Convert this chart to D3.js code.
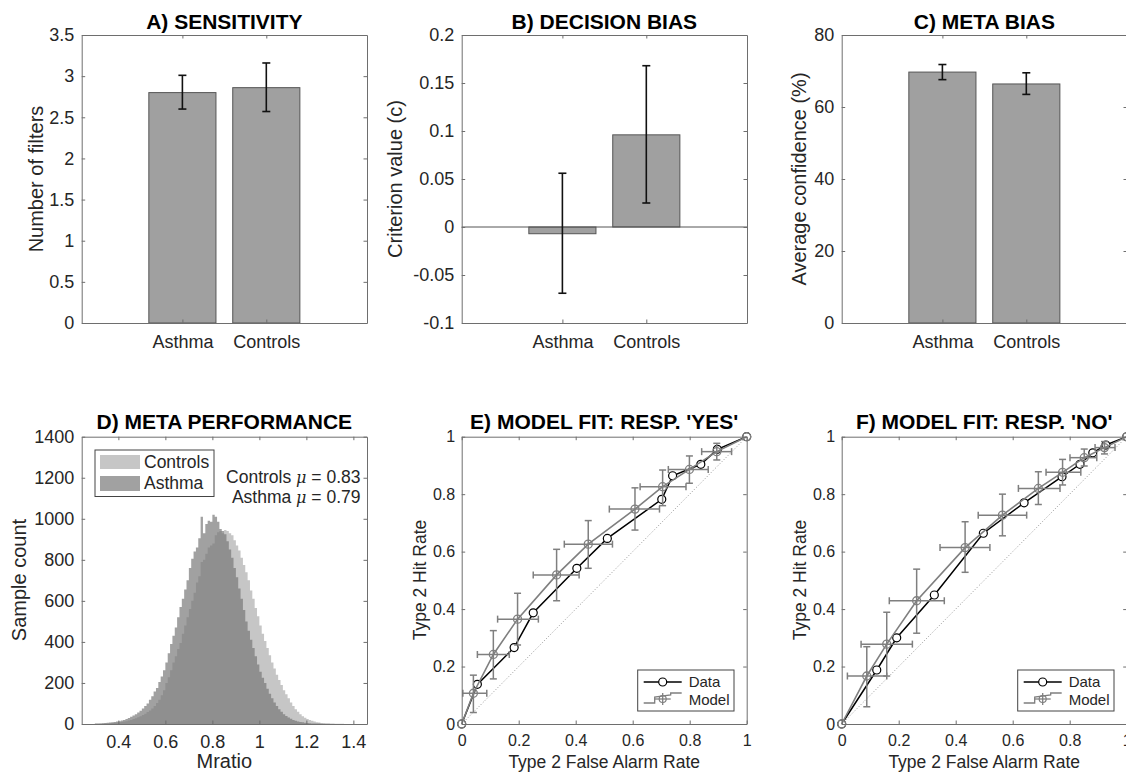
<!DOCTYPE html>
<html>
<head>
<meta charset="utf-8">
<script src="https://cdn.jsdelivr.net/npm/d3@7"></script>
<style>
body { margin: 0; background: #fff; }
svg { display: block; font-family: "Liberation Sans", Arial, Helvetica, sans-serif; }
</style>
</head>
<body>
<script>
// groups and bar values (mean, error bar low / high)
var groups = ["Asthma", "Controls"];
var sensMean = [2.80, 2.86];
var sensLo = [2.60, 2.57];
var sensHi = [3.01, 3.16];
var biasMean = [-0.007, 0.096];
var biasLo = [-0.069, 0.025];
var biasHi = [0.056, 0.168];
var confMean = [69.7, 66.4];
var confLo = [67.6, 63.5];
var confHi = [71.8, 69.5];

// histogram of Mratio samples, bins of 0.01 starting at 0.30
var histBinStart = 0.30;
var histBinWidth = 0.01;
var asthmaCounts = [2,3,3,4,5,6,7,8,10,12,
  14,17,20,24,29,35,41,48,56,64,
  75,88,100,118,135,158,175,205,232,262,
  300,345,390,430,470,520,570,610,655,700,
  760,805,840,860,905,1010,930,975,990,985,
  1020,1010,985,950,940,925,890,850,810,760,
  715,660,610,555,500,455,410,370,330,290,
  255,225,200,172,148,125,105,88,72,60,
  48,39,32,25,20,16,12,10,8,6,
  5,4,3,3,2,2,1,1,1,1];
var controlsCounts = [1,1,2,2,3,3,4,5,6,7,
  8,10,12,14,17,20,24,28,33,38,
  44,50,58,66,75,88,102,118,140,165,
  200,228,262,300,330,365,395,440,480,520,
  560,600,640,690,720,790,800,830,860,870,
  880,920,935,940,930,945,940,930,920,895,
  870,845,810,775,740,700,650,610,565,525,
  480,440,405,370,335,300,270,240,215,190,
  165,145,125,105,88,72,60,48,38,30,
  24,20,16,12,9,7,5,4,3,3,
  2,2,1,1,1,1];
var muLabels = ["Controls", "Asthma"];
var muValues = [0.83, 0.79];

// type 2 ROC, response 'yes'
var yesDataFA = [0, 0.055, 0.184, 0.251, 0.404, 0.511, 0.702, 0.740, 0.839, 0.897, 1];
var yesDataHR = [0, 0.138, 0.266, 0.387, 0.542, 0.646, 0.782, 0.864, 0.904, 0.956, 1];
var yesModelFA = [0, 0.041, 0.111, 0.196, 0.333, 0.444, 0.608, 0.705, 0.799, 0.895, 1];
var yesModelHR = [0, 0.107, 0.242, 0.365, 0.519, 0.626, 0.748, 0.826, 0.886, 0.948, 1];
var yesModelFALo = [0, 0.004, 0.055, 0.126, 0.251, 0.360, 0.518, 0.626, 0.725, 0.842, 1];
var yesModelFAHi = [0, 0.088, 0.167, 0.269, 0.412, 0.529, 0.694, 0.787, 0.865, 0.947, 1];
var yesModelHRLo = [0, 0.040, 0.157, 0.275, 0.429, 0.542, 0.675, 0.760, 0.838, 0.919, 1];
var yesModelHRHi = [0, 0.170, 0.325, 0.455, 0.608, 0.708, 0.822, 0.884, 0.933, 0.977, 1];

// type 2 ROC, response 'no'
var noDataFA = [0, 0.123, 0.193, 0.325, 0.497, 0.640, 0.773, 0.836, 0.881, 0.927, 1];
var noDataHR = [0, 0.188, 0.300, 0.449, 0.664, 0.770, 0.861, 0.904, 0.944, 0.971, 1];
var noModelFA = [0, 0.088, 0.158, 0.263, 0.433, 0.564, 0.690, 0.775, 0.851, 0.922, 1];
var noModelHR = [0, 0.167, 0.278, 0.429, 0.614, 0.727, 0.820, 0.876, 0.927, 0.962, 1];
var noModelFALo = [0, 0.020, 0.068, 0.167, 0.345, 0.479, 0.620, 0.717, 0.801, 0.889, 1];
var noModelFAHi = [0, 0.158, 0.248, 0.360, 0.520, 0.649, 0.766, 0.839, 0.895, 0.959, 1];
var noModelHRLo = [0, 0.060, 0.167, 0.316, 0.528, 0.655, 0.764, 0.832, 0.898, 0.940, 1];
var noModelHRHi = [0, 0.269, 0.389, 0.539, 0.704, 0.800, 0.878, 0.921, 0.957, 0.983, 1];

var W = 1126, H = 773;
var axisCol = "#6e6e6e", textCol = "#262626";
var barFill = "#a0a0a0", barEdge = "#555";
var modelCol = "#7f7f7f";

var svg = d3.select("body").append("svg").attr("width", W).attr("height", H);

var fmt = function (d) { return String(+d.toFixed(4)); };

// box with inward ticks on all four sides
function frame(x, y, o) {
  var g = svg.append("g");
  var x0 = x.range()[0], x1 = x.range()[1], y0 = y.range()[1], y1 = y.range()[0];
  var tl = 3.5;
  var ax = [
    [d3.axisBottom(x).tickValues(o.xTicks).tickFormat(o.xFmt || fmt).tickPadding(o.xPad), 0, y1, true],
    [d3.axisTop(x).tickValues(o.xTicks).tickFormat(""), 0, y0, false],
    [d3.axisLeft(y).tickValues(o.yTicks).tickFormat(o.yFmt || fmt).tickPadding(o.yPad), x0, 0, true],
    [d3.axisRight(y).tickValues(o.yTicks).tickFormat(""), x1, 0, false]
  ];
  ax.forEach(function (a) {
    var s = g.append("g").attr("transform", "translate(" + a[1] + "," + a[2] + ")")
      .call(a[0].tickSizeInner(-tl).tickSizeOuter(0));
    s.attr("font-family", null).attr("font-size", o.fs);
    s.select(".domain").attr("stroke", axisCol);
    s.selectAll(".tick line").attr("stroke", axisCol);
    s.selectAll(".tick text").attr("fill", textCol);
  });
  return g;
}

function title(x, txt, baseY) {
  svg.append("text").attr("x", (x.range()[0] + x.range()[1]) / 2).attr("y", baseY)
    .attr("text-anchor", "middle").attr("font-weight", "bold").attr("font-size", 21)
    .attr("fill", "#000").text(txt);
}

function ylabel(txt, bx, cy, fs) {
  svg.append("text").attr("transform", "translate(" + bx + "," + cy + ") rotate(-90)")
    .attr("text-anchor", "middle").attr("font-size", fs).attr("fill", textCol).text(txt);
}

// ---------- bar panels A, B, C ----------
function barPanel(left, yDomain, yTicks, mean, lo, hi, ttl, ylab, ylabX) {
  var x = d3.scaleLinear().domain([-0.2, 3.2]).range([left, left + 285.3]);
  var y = d3.scaleLinear().domain(yDomain).range([323, 35]);
  var g = svg.append("g");
  var idx = [0, 1];
  g.selectAll("rect").data(idx).enter().append("rect")
    .attr("x", function (i) { return x(i + 1 - 0.4); })
    .attr("width", x(0.8) - x(0))
    .attr("y", function (i) { return y(Math.max(mean[i], 0)); })
    .attr("height", function (i) { return Math.abs(y(mean[i]) - y(0)); })
    .attr("fill", barFill).attr("stroke", barEdge).attr("stroke-width", 1);
  if (yDomain[0] < 0) {
    g.append("line").attr("x1", x.range()[0]).attr("x2", x.range()[1])
      .attr("y1", y(0)).attr("y2", y(0)).attr("stroke", "#555").attr("stroke-width", 1);
  }
  idx.forEach(function (i) {
    var cx = x(i + 1);
    g.append("line").attr("x1", cx).attr("x2", cx).attr("y1", y(lo[i])).attr("y2", y(hi[i]))
      .attr("stroke", "#111").attr("stroke-width", 1.6);
    [lo[i], hi[i]].forEach(function (v) {
      g.append("line").attr("x1", cx - 4).attr("x2", cx + 4).attr("y1", y(v)).attr("y2", y(v))
        .attr("stroke", "#111").attr("stroke-width", 1.6);
    });
  });
  frame(x, y, { xTicks: [1, 2], xFmt: function (d) { return groups[d - 1]; }, xPad: 12,
    yTicks: yTicks, yPad: 7.5, fs: 18 });
  title(x, ttl, 29);
  ylabel(ylab, ylabX, 179, 20);
}

barPanel(81.7, [0, 3.5], [0, 0.5, 1, 1.5, 2, 2.5, 3, 3.5], sensMean, sensLo, sensHi,
  "A) SENSITIVITY", "Number of filters", 42.5);
barPanel(461.7, [-0.1, 0.2], [-0.1, -0.05, 0, 0.05, 0.1, 0.15, 0.2], biasMean, biasLo, biasHi,
  "B) DECISION BIAS", "Criterion value (c)", 402);
barPanel(841.7, [0, 80], [0, 20, 40, 60, 80], confMean, confLo, confHi,
  "C) META BIAS", "Average confidence (%)", 806);

// ---------- panel D: histograms ----------
(function () {
  var x = d3.scaleLinear().domain([0.244, 1.458]).range([81.7, 367]);
  var y = d3.scaleLinear().domain([0, 1400]).range([724, 436.7]);
  var area = d3.area().x(function (d) { return x(d[0]); }).y0(y(0))
    .y1(function (d) { return y(d[1]); }).curve(d3.curveStepAfter);
  function pts(counts) {
    var p = counts.map(function (c, i) { return [histBinStart + i * histBinWidth, c]; });
    p.push([histBinStart + counts.length * histBinWidth, counts[counts.length - 1]]);
    return p;
  }
  svg.append("path").attr("d", area(pts(controlsCounts))).attr("fill", "#c6c6c6");
  svg.append("path").attr("d", area(pts(asthmaCounts))).attr("fill", "rgb(116,116,116)").attr("fill-opacity", 0.68);
  frame(x, y, { xTicks: [0.4, 0.6, 0.8, 1, 1.2, 1.4], xPad: 11, yTicks: d3.range(0, 1401, 200), yPad: 7.5, fs: 18 });
  title(x, "D) META PERFORMANCE", 429);
  ylabel("Sample count", 26, 580, 20);
  svg.append("text").attr("x", (81.7 + 367) / 2).attr("y", 768).attr("text-anchor", "middle")
    .attr("font-size", 20).attr("fill", textCol).text("Mratio");

  // legend
  var lg = svg.append("g");
  lg.append("rect").attr("x", 95).attr("y", 450).attr("width", 119).attr("height", 46.5)
    .attr("fill", "#fff").attr("stroke", "#444").attr("stroke-width", 1);
  lg.append("rect").attr("x", 100).attr("y", 455).attr("width", 40).attr("height", 14).attr("fill", "#c6c6c6");
  lg.append("rect").attr("x", 100).attr("y", 476).attr("width", 40).attr("height", 15)
    .attr("fill", "rgb(116,116,116)").attr("fill-opacity", 0.68);
  lg.append("text").attr("x", 144).attr("y", 468).attr("font-size", 17.5).attr("fill", textCol).text("Controls");
  lg.append("text").attr("x", 144).attr("y", 489).attr("font-size", 17.5).attr("fill", textCol).text("Asthma");

  muLabels.forEach(function (lab, i) {
    var t = svg.append("text").attr("x", 360.5).attr("y", 483 + i * 20).attr("text-anchor", "end")
      .attr("font-size", 17.5).attr("fill", textCol);
    t.append("tspan").text(lab + " ");
    t.append("tspan").attr("font-style", "italic").attr("font-family", "DejaVu Serif, serif").attr("font-size", 16).text("\u03bc");
    t.append("tspan").text(" =  " + muValues[i].toFixed(2));
  });
})();

// ---------- panels E, F: type 2 ROC ----------
function rocPanel(left, dFA, dHR, mFA, mHR, mFALo, mFAHi, mHRLo, mHRHi, ttl) {
  var x = d3.scaleLinear().domain([0, 1]).range([left, left + 285]);
  var y = d3.scaleLinear().domain([0, 1]).range([724, 436.7]);
  var g = svg.append("g");
  g.append("line").attr("x1", x(0)).attr("y1", y(0)).attr("x2", x(1)).attr("y2", y(1))
    .attr("stroke", "#888").attr("stroke-width", 0.9).attr("stroke-dasharray", "1,2");
  var line = d3.line().x(function (d) { return x(d[0]); }).y(function (d) { return y(d[1]); });
  var dPts = dFA.map(function (v, i) { return [v, dHR[i]]; });
  var mPts = mFA.map(function (v, i) { return [v, mHR[i]]; });

  g.append("path").attr("d", line(dPts)).attr("fill", "none").attr("stroke", "#000").attr("stroke-width", 1.5);
  g.selectAll("circle.d").data(dPts).enter().append("circle").attr("class", "d")
    .attr("cx", function (d) { return x(d[0]); }).attr("cy", function (d) { return y(d[1]); })
    .attr("r", 4).attr("fill", "#fff").attr("stroke", "#000").attr("stroke-width", 1.2);

  g.append("path").attr("d", line(mPts)).attr("fill", "none").attr("stroke", modelCol).attr("stroke-width", 1.6);
  var cap = 3.5;
  mPts.forEach(function (p, i) {
    var px = x(p[0]), py = y(p[1]);
    if (mHRHi[i] > mHRLo[i]) {
      g.append("line").attr("x1", px).attr("x2", px).attr("y1", y(mHRLo[i])).attr("y2", y(mHRHi[i]))
        .attr("stroke", modelCol).attr("stroke-width", 1.5);
      [mHRLo[i], mHRHi[i]].forEach(function (v) {
        g.append("line").attr("x1", px - cap).attr("x2", px + cap).attr("y1", y(v)).attr("y2", y(v))
          .attr("stroke", modelCol).attr("stroke-width", 1.5);
      });
    }
    if (mFAHi[i] > mFALo[i]) {
      g.append("line").attr("y1", py).attr("y2", py).attr("x1", x(mFALo[i])).attr("x2", x(mFAHi[i]))
        .attr("stroke", modelCol).attr("stroke-width", 1.5);
      [mFALo[i], mFAHi[i]].forEach(function (v) {
        g.append("line").attr("y1", py - cap).attr("y2", py + cap).attr("x1", x(v)).attr("x2", x(v))
          .attr("stroke", modelCol).attr("stroke-width", 1.5);
      });
    }
  });
  g.selectAll("circle.m").data(mPts).enter().append("circle").attr("class", "m")
    .attr("cx", function (d) { return x(d[0]); }).attr("cy", function (d) { return y(d[1]); })
    .attr("r", 4).attr("fill", "none").attr("stroke", modelCol).attr("stroke-width", 1.3);

  frame(x, y, { xTicks: [0, 0.2, 0.4, 0.6, 0.8, 1], xPad: 10.5, yTicks: [0, 0.2, 0.4, 0.6, 0.8, 1], yPad: 6.5, fs: 16 });
  title(x, ttl, 429);
  ylabel("Type 2 Hit Rate", left - 35.7, 580, 17.5);
  svg.append("text").attr("x", left + 142.5).attr("y", 768).attr("text-anchor", "middle")
    .attr("font-size", 17.5).attr("fill", textCol).text("Type 2 False Alarm Rate");

  // legend
  var lx = left + 176, ly = 670;
  var lg = svg.append("g");
  lg.append("rect").attr("x", lx).attr("y", ly).attr("width", 96.3).attr("height", 41)
    .attr("fill", "#fff").attr("stroke", "#444").attr("stroke-width", 1);
  lg.append("line").attr("x1", lx + 6).attr("x2", lx + 44).attr("y1", ly + 12).attr("y2", ly + 12)
    .attr("stroke", "#000").attr("stroke-width", 1.5);
  lg.append("circle").attr("cx", lx + 25).attr("cy", ly + 12).attr("r", 4).attr("fill", "#fff")
    .attr("stroke", "#000").attr("stroke-width", 1.2);
  lg.append("path").attr("d", "M" + (lx + 6) + "," + (ly + 33) + "H" + (lx + 17) + "V" + (ly + 27) +
    "L" + (lx + 33) + "," + (ly + 25) + "V" + (ly + 23) + "H" + (lx + 44))
    .attr("fill", "none").attr("stroke", modelCol).attr("stroke-width", 1.3);
  lg.append("line").attr("x1", lx + 17).attr("x2", lx + 33).attr("y1", ly + 29).attr("y2", ly + 29)
    .attr("stroke", modelCol).attr("stroke-width", 1.3);
  lg.append("line").attr("x1", lx + 25).attr("x2", lx + 25).attr("y1", ly + 23).attr("y2", ly + 35)
    .attr("stroke", modelCol).attr("stroke-width", 1.3);
  lg.append("circle").attr("cx", lx + 25).attr("cy", ly + 29).attr("r", 3.5).attr("fill", "none")
    .attr("stroke", modelCol).attr("stroke-width", 1.2);
  lg.append("text").attr("x", lx + 51).attr("y", ly + 17).attr("font-size", 15).attr("fill", textCol).text("Data");
  lg.append("text").attr("x", lx + 51).attr("y", ly + 35).attr("font-size", 15).attr("fill", textCol).text("Model");
}

rocPanel(461.7, yesDataFA, yesDataHR, yesModelFA, yesModelHR, yesModelFALo, yesModelFAHi,
  yesModelHRLo, yesModelHRHi, "E) MODEL FIT: RESP. 'YES'");
rocPanel(841.7, noDataFA, noDataHR, noModelFA, noModelHR, noModelFALo, noModelFAHi,
  noModelHRLo, noModelHRHi, "F) MODEL FIT: RESP. 'NO'");
</script>
</body>
</html>
